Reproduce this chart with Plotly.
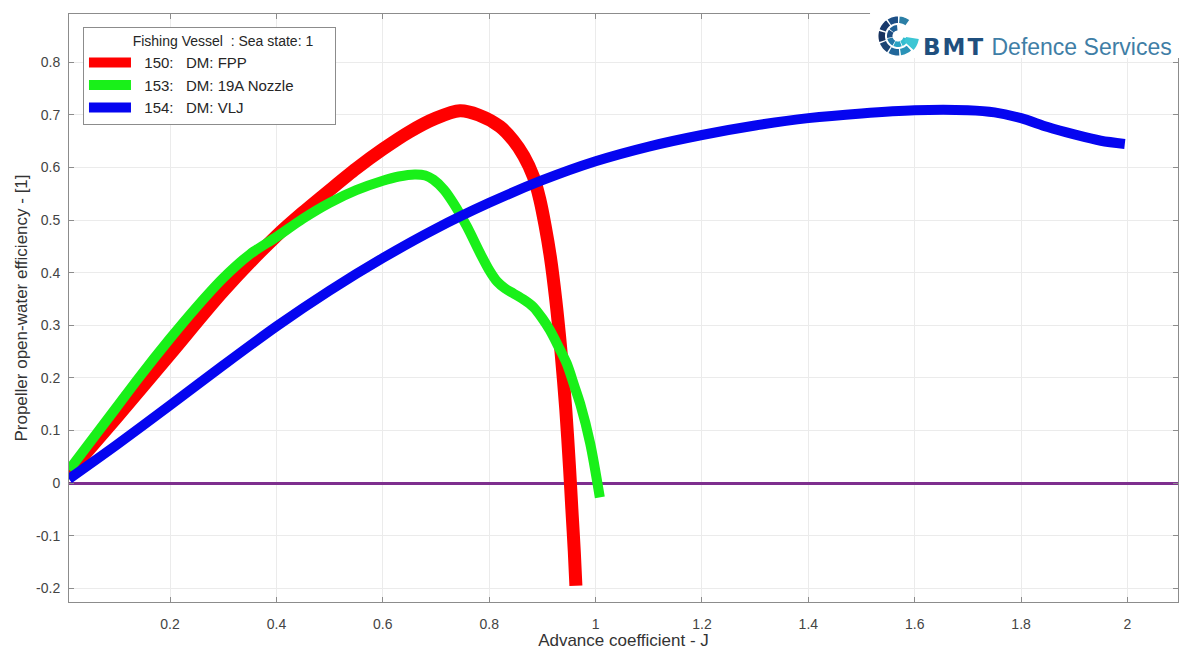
import math
import plotly.graph_objects as go

# Propeller open-water efficiency against advance coefficient J
j_fpp = [0.01, 0.1, 0.2, 0.3, 0.4, 0.45, 0.5, 0.55, 0.6, 0.65, 0.7, 0.745,
         0.78, 0.82, 0.845, 0.865, 0.883, 0.895, 0.905, 0.915, 0.925, 0.935,
         0.944, 0.951, 0.956, 0.96, 0.963]
eta_fpp = [0.02, 0.125, 0.245, 0.365, 0.47, 0.515, 0.557, 0.598, 0.635,
           0.668, 0.694, 0.708, 0.700, 0.678, 0.652, 0.622, 0.583, 0.54,
           0.49, 0.43, 0.35, 0.25, 0.14, 0.03, -0.06, -0.13, -0.195]

j_nozzle = [0.01, 0.1, 0.141, 0.2, 0.25, 0.3, 0.35, 0.4, 0.45, 0.5, 0.55,
            0.6, 0.63, 0.66, 0.68, 0.695, 0.715, 0.733, 0.758, 0.783, 0.8,
            0.815, 0.83, 0.845, 0.865, 0.883, 0.9, 0.914, 0.93, 0.946, 0.96,
            0.971, 0.99, 1.008]
eta_nozzle = [0.025, 0.145, 0.2, 0.275, 0.335, 0.39, 0.435, 0.468, 0.503,
              0.533, 0.557, 0.575, 0.583, 0.587, 0.585, 0.577, 0.558, 0.532,
              0.488, 0.437, 0.405, 0.383, 0.37, 0.361, 0.349, 0.335, 0.313,
              0.291, 0.26, 0.227, 0.185, 0.151, 0.075, -0.027]

j_vlj = [0.01, 0.1, 0.2, 0.3, 0.4, 0.5, 0.6, 0.7, 0.8, 0.9, 1.0, 1.1, 1.2,
         1.3, 1.4, 1.5, 1.6, 1.7, 1.75, 1.8, 1.85, 1.9, 1.95, 1.995]
eta_vlj = [0.008, 0.073, 0.148, 0.224, 0.298, 0.366, 0.428, 0.484, 0.533,
           0.576, 0.612, 0.64, 0.662, 0.68, 0.694, 0.703, 0.709, 0.709,
           0.705, 0.694, 0.677, 0.663, 0.651, 0.645]

series_names = ["\u00a0\u00a0150:\u00a0\u00a0\u00a0DM: FPP",
                "\u00a0\u00a0153:\u00a0\u00a0\u00a0DM: 19A Nozzle",
                "\u00a0\u00a0154:\u00a0\u00a0\u00a0DM: VLJ"]
legend_title = ("\u00a0" * 12 + "Fishing Vessel\u00a0 : Sea state: 1"
                + "\u00a0" * 5)

x_ticks = [0.2, 0.4, 0.6, 0.8, 1.0, 1.2, 1.4, 1.6, 1.8, 2.0]
x_tick_text = ["0.2", "0.4", "0.6", "0.8", "1", "1.2", "1.4", "1.6", "1.8", "2"]
y_ticks = [-0.2, -0.1, 0.0, 0.1, 0.2, 0.3, 0.4, 0.5, 0.6, 0.7, 0.8]
y_tick_text = ["-0.2", "-0.1", "0", "0.1", "0.2", "0.3", "0.4", "0.5",
               "0.6", "0.7", "0.8"]

colors = ["#ff0000", "#19f019", "#0505f0"]
widths = [13, 10, 10]

FONT = "Liberation Sans, Arial, sans-serif"

fig = go.Figure()
for xs, ys, name, col, w in zip([j_fpp, j_nozzle, j_vlj],
                                [eta_fpp, eta_nozzle, eta_vlj],
                                series_names, colors, widths):
    fig.add_trace(go.Scatter(
        x=xs, y=ys, mode="lines", name=name, legendgroup=name,
        line=dict(color=col, width=w, shape="spline", smoothing=0.8),
        hoverinfo="skip"))

axis_common = dict(
    showline=True, linecolor="#8c8c8c", linewidth=1, mirror="ticks",
    ticks="inside", ticklen=5, tickcolor="#8c8c8c",
    showgrid=True, gridcolor="#ebebeb", gridwidth=1,
    tickfont=dict(family=FONT, size=14, color="#444444"),
    title_font=dict(family=FONT, size=17, color="#333333"),
)

fig.update_xaxes(range=[0.01, 2.095], tickvals=x_ticks, ticktext=x_tick_text,
                 zeroline=False, title_text="Advance coefficient - J",
                 title_standoff=2, ticklabelstandoff=9, automargin=False,
                 **axis_common)
fig.update_yaxes(range=[-0.226, 0.892], tickvals=y_ticks, ticktext=y_tick_text,
                 zeroline=True, zerolinecolor="#7e2f8e", zerolinewidth=2.5,
                 title_text="Propeller open-water efficiency - [1]",
                 title_standoff=4, ticklabelstandoff=5, automargin=False,
                 **axis_common)

# Company mark in the upper right corner
shapes = [dict(type="rect", xref="paper", yref="paper", x0=0.7223, x1=1.02,
               y0=0.925, y1=1.03, fillcolor="white", line_width=0,
               layer="above")]


def ring_segment(r0, r1, a0, a1, n=10):
    pts = []
    for k in range(n + 1):
        a = math.radians(a0 + (a1 - a0) * k / n)
        pts.append((r1 * math.cos(a), r1 * math.sin(a)))
    for k in range(n, -1, -1):
        a = math.radians(a0 + (a1 - a0) * k / n)
        pts.append((r0 * math.cos(a), r0 * math.sin(a)))
    return "M " + " L ".join(f"{px:.2f},{py:.2f}" for px, py in pts) + " Z"


icon_x, icon_y = 0.7475, 0.9626
outer = [(55, 85, "#2b7fa6"), (90, 122, "#1d4f86"), (127, 160, "#18396b"),
         (165, 198, "#17325f"), (203, 236, "#1b4474"), (241, 274, "#21679a"),
         (279, 312, "#2a93b8")]
inner = [(95, 140, "#1f5f95"), (145, 190, "#1c4c80"), (195, 240, "#2479a8"),
         (245, 290, "#2aa3c4"), (295, 345, "#33bccf")]
for a0, a1, col in outer:
    shapes.append(dict(type="path", xref="paper", yref="paper",
                       xsizemode="pixel", ysizemode="pixel",
                       xanchor=icon_x, yanchor=icon_y,
                       path=ring_segment(13, 19.5, a0, a1),
                       fillcolor=col, line_width=0, layer="above"))
for a0, a1, col in inner:
    shapes.append(dict(type="path", xref="paper", yref="paper",
                       xsizemode="pixel", ysizemode="pixel",
                       xanchor=icon_x, yanchor=icon_y,
                       path=ring_segment(5.5, 11, a0, a1),
                       fillcolor=col, line_width=0, layer="above"))
shapes.append(dict(type="path", xref="paper", yref="paper",
                   xsizemode="pixel", ysizemode="pixel",
                   xanchor=icon_x, yanchor=icon_y,
                   path=ring_segment(8, 21, 318, 352),
                   fillcolor="#3cc6d4", line_width=0, layer="above"))

fig.update_layout(
    width=1179, height=650,
    margin=dict(l=69, r=1, t=14, b=48),
    plot_bgcolor="white", paper_bgcolor="white",
    font=dict(family=FONT, size=12, color="#333333"),
    shapes=shapes,
    showlegend=True,
    legend=dict(
        x=0.0126, y=0.9779, xanchor="left", yanchor="top",
        bgcolor="white", bordercolor="#8c8c8c", borderwidth=1,
        font=dict(family=FONT, size=15, color="#262626"),
        title=dict(text=legend_title, side="top",
                   font=dict(family=FONT, size=14, color="#262626")),
        traceorder="grouped", tracegroupgap=0, itemwidth=42,
    ),
    annotations=[dict(
        xref="paper", yref="paper", x=0.768, y=0.944,
        xanchor="left", yanchor="middle", showarrow=False,
        text=('<span style="color:#1f4f7e;font-family:DejaVu Sans;'
              'letter-spacing:2px"><b>BMT</b></span>'
              ' <span style="color:#3f7ea6">Defence Services</span>'),
        font=dict(family=FONT, size=23))],
)

fig.write_html("out.html")
